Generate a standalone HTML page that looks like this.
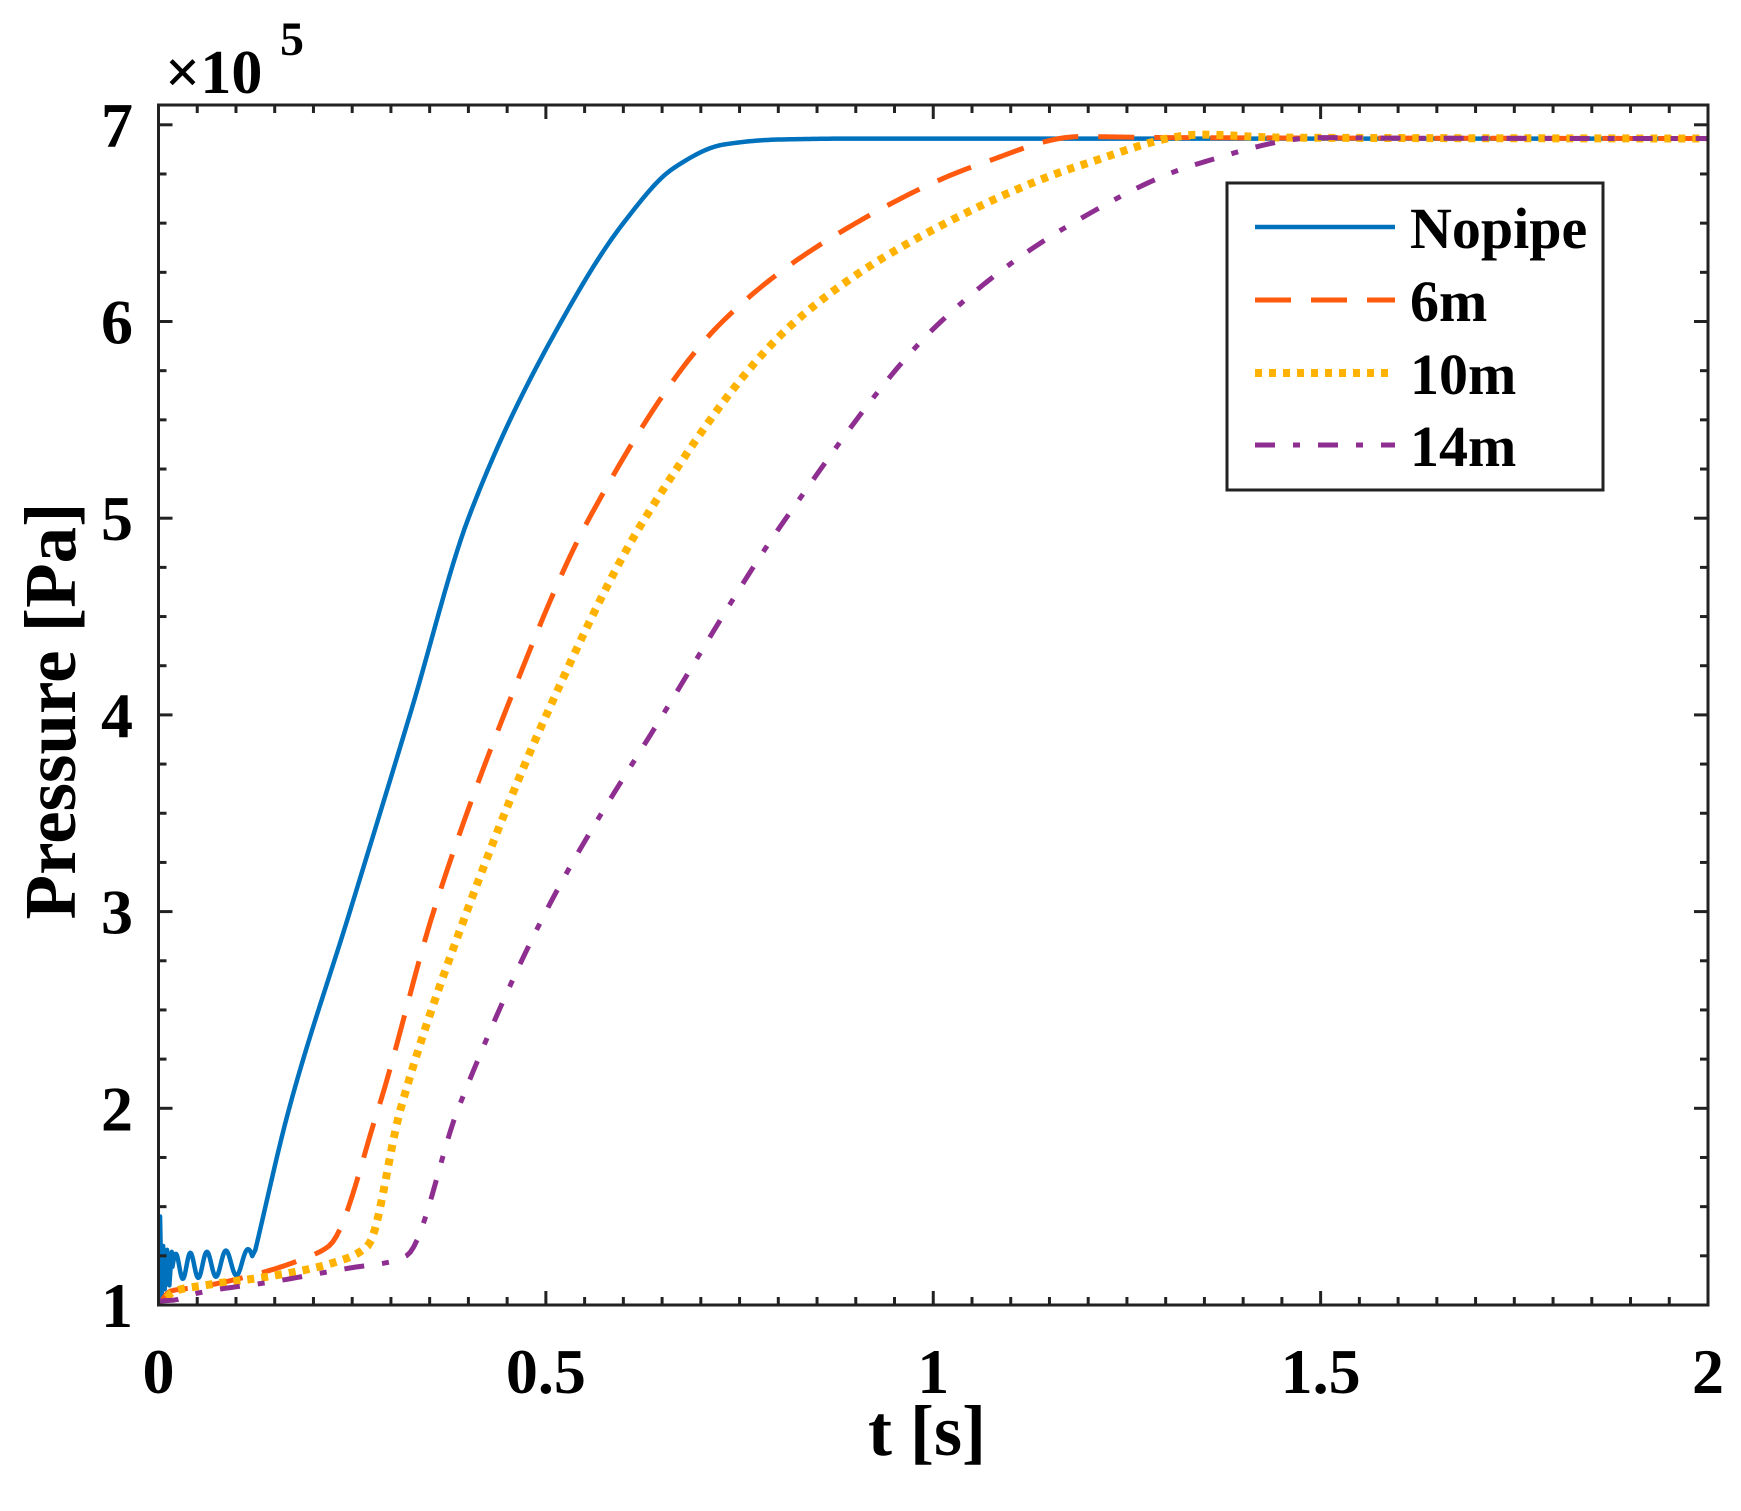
<!DOCTYPE html>
<html><head><meta charset="utf-8"><style>
html,body{margin:0;padding:0;background:#fff}
svg{display:block}
text{font-family:"Liberation Serif",serif;font-weight:bold;fill:#000}
</style></head><body>
<svg id="s" width="1741" height="1511" xmlns="http://www.w3.org/2000/svg">
<defs><clipPath id="c"><rect x="158.5" y="105" width="1549.5" height="1200"/></clipPath></defs>
<g id="curves" clip-path="url(#c)"></g>
<g id="axes"></g>
<text x="165" y="93" font-size="62">×10</text>
<text x="280" y="55" font-size="48">5</text>
<text x="927" y="1455" font-size="72" text-anchor="middle">t [s]</text>
<text transform="translate(75,711) rotate(-90)" font-size="73" text-anchor="middle">Pressure [Pa]</text>
<rect x="1227" y="183" width="376" height="307" fill="#fff" stroke="#222" stroke-width="3"/>
<line x1="1255" y1="227" x2="1395" y2="227" stroke="#0072BD" stroke-width="4.5"/>
<line x1="1255" y1="300" x2="1395" y2="300" stroke="#FF5A0E" stroke-width="5" stroke-dasharray="36,20"/>
<line x1="1255" y1="373" x2="1395" y2="373" stroke="#FFB300" stroke-width="8" stroke-dasharray="7,7"/>
<line x1="1255" y1="445" x2="1395" y2="445" stroke="#8E2E91" stroke-width="5" stroke-dasharray="20,18,7,18"/>
<text x="1410" y="248" font-size="58">Nopipe</text>
<text x="1410" y="321" font-size="58">6m</text>
<text x="1410" y="394" font-size="58">10m</text>
<text x="1410" y="466" font-size="58">14m</text>
</svg>
<script>
const X=t=>158.5+t*774.75, Y=p=>1305-(p-1)*196.7;
const NS="http://www.w3.org/2000/svg";
function el(tag,attrs,parent){const e=document.createElementNS(NS,tag);for(const k in attrs)e.setAttribute(k,attrs[k]);parent.appendChild(e);return e;}
// monotone cubic (Fritsch-Carlson) sampling
function mono(pts,dt){const n=pts.length,x=pts.map(p=>p[0]),y=pts.map(p=>p[1]);const d=[],m=[];
for(let i=0;i<n-1;i++)d.push((y[i+1]-y[i])/(x[i+1]-x[i]));
m[0]=d[0];m[n-1]=d[n-2];for(let i=1;i<n-1;i++){if(d[i-1]*d[i]<=0)m[i]=0;else{const w1=2*(x[i+1]-x[i])+(x[i]-x[i-1]),w2=(x[i+1]-x[i])+2*(x[i]-x[i-1]);m[i]=(w1+w2)/(w1/d[i-1]+w2/d[i]);}}
const out=[];for(let i=0;i<n-1;i++){const h=x[i+1]-x[i];const steps=Math.max(2,Math.ceil(h/dt));for(let k=0;k<steps;k++){const s=k/steps,s2=s*s,s3=s2*s;
const v=(2*s3-3*s2+1)*y[i]+(s3-2*s2+s)*h*m[i]+(-2*s3+3*s2)*y[i+1]+(s3-s2)*h*m[i+1];out.push([x[i]+s*h,v]);}}out.push(pts[n-1]);return out;}
function path(pts,attrs){const d=pts.map((p,i)=>(i?'L':'M')+X(p[0]).toFixed(2)+' '+Y(p[1]).toFixed(2)).join('');attrs.d=d;attrs.fill='none';attrs['stroke-linejoin']='round';el('path',attrs,document.getElementById('curves'));}
// Nopipe
let np=[[0,1.0],[0.002,1.45],[0.004,1.05],[0.006,1.3],[0.008,1.08],[0.011,1.28],[0.014,1.1],[0.017,1.27]];
for(let t=0.018;t<=0.122;t+=0.001){const per=0.016+0.06*t;const amp=0.065;const base=1.19+0.25*t;np.push([t,base+amp*Math.sin(2*Math.PI*(t-0.018)/per)]);}
const npk=[[0.125,1.28],[0.168,1.99],[0.247,3.0],[0.326,4.02],[0.4,5.0],[0.527,6.05],[0.6,6.5],[0.665,6.78],[0.73,6.9],[0.8,6.925],[0.9,6.93],[2,6.93]];
np=np.concat(mono(npk,0.005));
path(np,{stroke:'#0072BD','stroke-width':4.5});
// 6m
const m6=[[0,1.0],[0.015,1.07],[0.05,1.09],[0.12,1.15],[0.19,1.24],[0.22,1.3],[0.283,1.99],[0.355,3.0],[0.448,4.02],[0.556,5.0],[0.728,6.0],[0.9,6.5],[1.06,6.8],[1.19,6.94],[1.3,6.935],[2,6.93]];
path(mono(m6,0.005),{stroke:'#FF5A0E','stroke-width':5,'stroke-dasharray':'36,20'});
// 10m
const m10=[[0,0.98],[0.02,1.07],[0.06,1.1],[0.15,1.15],[0.23,1.22],[0.27,1.3],[0.312,1.99],[0.398,3.0],[0.503,4.02],[0.628,5.0],[0.822,6.0],[1.016,6.5],[1.195,6.8],[1.346,6.95],[1.45,6.935],[2,6.93]];
path(mono(m10,0.005),{stroke:'#FFB300','stroke-width':8,'stroke-dasharray':'7,7'});
// 14m
const m14=[[0,1.02],[0.02,1.025],[0.05,1.06],[0.15,1.12],[0.25,1.19],[0.3,1.22],[0.32,1.25],[0.386,1.99],[0.5,3.0],[0.654,4.02],[0.81,5.0],[1.01,6.0],[1.18,6.5],[1.34,6.8],[1.5,6.935],[1.6,6.932],[2,6.93]];
path(mono(m14,0.005),{stroke:'#8E2E91','stroke-width':5,'stroke-dasharray':'20,18,7,18'});
// axes
const ax=document.getElementById('axes');
el('rect',{x:158.5,y:105,width:1549.5,height:1200,fill:'none',stroke:'#222','stroke-width':3},ax);
for(let i=0;i<=40;i++){const t=i*0.05,x=X(t),L=(i%10==0)?14:8;
el('line',{x1:x,y1:1305,x2:x,y2:1305-L,stroke:'#222','stroke-width':3},ax);
el('line',{x1:x,y1:105,x2:x,y2:105+L,stroke:'#222','stroke-width':3},ax);}
for(let i=0;i<=24;i++){const p=1+i*0.25,y=Y(p),L=(i%4==0)?14:8;
el('line',{x1:158.5,y1:y,x2:158.5+L,y2:y,stroke:'#222','stroke-width':3},ax);
el('line',{x1:1708,y1:y,x2:1708-L,y2:y,stroke:'#222','stroke-width':3},ax);}
for(let p=1;p<=7;p++){const t=el('text',{x:133,y:Y(p)+22,'font-size':64,'text-anchor':'end'},ax);t.textContent=p;}
['0','0.5','1','1.5','2'].forEach((s,i)=>{const t=el('text',{x:X(i*0.5),y:1393,'font-size':64,'text-anchor':'middle'},ax);t.textContent=s;});
</script>
</body></html>
